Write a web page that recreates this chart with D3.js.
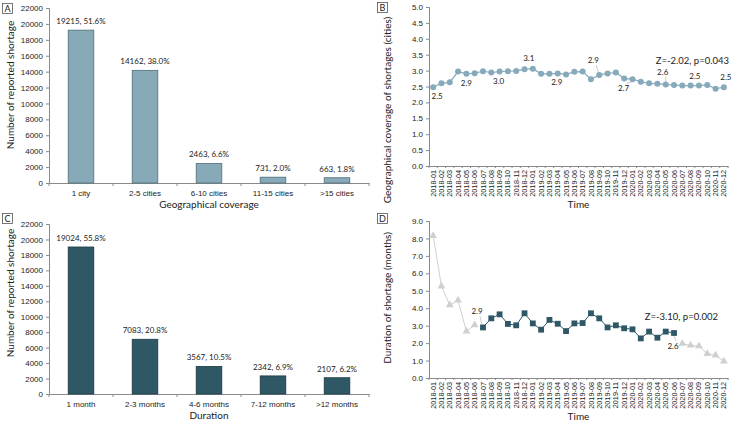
<!DOCTYPE html>
<html>
<head>
<meta charset="utf-8">
<script src="https://cdn.jsdelivr.net/npm/d3@7"></script>
<style>
  body { margin: 0; background: #fff; }
  svg { display: block; font-family: Lato, "Open Sans", sans-serif; }
</style>
</head>
<body>
<div id="chart"></div>
<script>
const coverageCats = ['1 city', '2-5 cities', '6-10 cities', '11-15 cities', '>15 cities'];
const coverageCounts = [19215, 14162, 2463, 731, 663];
const coveragePct = ['51.6%', '38.0%', '6.6%', '2.0%', '1.8%'];

const durationCats = ['1 month', '2-3 months', '4-6 months', '7-12 months', '>12 months'];
const durationCounts = [19024, 7083, 3567, 2342, 2107];
const durationPct = ['55.8%', '20.8%', '10.5%', '6.9%', '6.2%'];

const months = [
  '2018-01', '2018-02', '2018-03', '2018-04', '2018-05', '2018-06',
  '2018-07', '2018-08', '2018-09', '2018-10', '2018-11', '2018-12',
  '2019-01', '2019-02', '2019-03', '2019-04', '2019-05', '2019-06',
  '2019-07', '2019-08', '2019-09', '2019-10', '2019-11', '2019-12',
  '2020-01', '2020-02', '2020-03', '2020-04', '2020-05', '2020-06',
  '2020-07', '2020-08', '2020-09', '2020-10', '2020-11', '2020-12'
];

const coverageTrend = [
  2.48, 2.60, 2.63, 2.97, 2.90, 2.92, 2.98, 2.94, 2.97, 2.98, 2.99, 3.04,
  3.06, 2.90, 2.90, 2.91, 2.88, 2.96, 2.97, 2.73, 2.86, 2.91, 2.94, 2.75,
  2.73, 2.65, 2.60, 2.59, 2.56, 2.55, 2.53, 2.53, 2.53, 2.55, 2.43, 2.48
];
const durationTrend = [
  8.16, 5.26, 4.18, 4.45, 2.68, 3.04, 2.90, 3.42, 3.65, 3.10, 3.02, 3.71,
  3.13, 2.77, 3.33, 3.11, 2.69, 3.13, 3.15, 3.71, 3.42, 2.90, 3.02, 2.85,
  2.79, 2.27, 2.66, 2.31, 2.66, 2.58, 1.97, 1.87, 1.83, 1.39, 1.30, 0.96
];
// months 2018-07 .. 2020-06 are the highlighted stretch in panel D
const durationFocus = ['2018-07', '2020-06'];

const countTicks = [0, 2000, 4000, 6000, 8000, 10000, 12000, 14000, 16000, 18000, 20000, 22000];
const coverageTicks = [0, 0.5, 1, 1.5, 2, 2.5, 3, 3.5, 4, 4.5, 5];
const durationTicks = [0, 1, 2, 3, 4, 5, 6, 7, 8, 9];

const coverageTest = 'Z=-2.02, p=0.043';
const durationTest = 'Z=-3.10, p=0.002';

// labelled points: [month, dx, dy, leader]
const coverageLabels = [
  ['2018-01', 4, 12, false], ['2018-05', 0, 12, false], ['2018-09', -1, 12, false],
  ['2019-01', -4, -8, false], ['2019-04', -1, 12, false], ['2019-09', -6, -12, true],
  ['2020-01', -9, 12, true], ['2020-05', -3, -10, true], ['2020-09', -4, -7, false],
  ['2020-12', 2, -7, false]
];
const durationLabels = [['2018-07', -6, -13, true], ['2020-06', -1, 16, true]];

const W = 750, H = 422;
const axisColor = '#8a8a8a';
const textColor = '#222';

const svg = d3.select('#chart').append('svg')
  .attr('width', W).attr('height', H).attr('viewBox', `0 0 ${W} ${H}`);

function panelTag(x, y, letter) {
  svg.append('rect').attr('x', x + 0.5).attr('y', y + 0.5).attr('width', 10).attr('height', 10)
    .attr('fill', '#fff').attr('stroke', '#555').attr('stroke-width', 0.8);
  svg.append('text').attr('x', x + 5.5).attr('y', y + 9).attr('text-anchor', 'middle')
    .attr('font-size', 9).attr('fill', textColor).text(letter);
}

function styleAxis(g) {
  g.select('.domain').attr('stroke', axisColor);
  g.selectAll('.tick line').attr('stroke', axisColor);
  g.selectAll('.tick text').attr('fill', textColor);
}

function drawBars(opts) {
  const { cats, counts, pct, fill, stroke, left, right, top, bottom, xTitle, yTitleY } = opts;
  const x = d3.scaleBand().domain(cats).range([left, right]).paddingInner(0.6).paddingOuter(0.3);
  const y = d3.scaleLinear().domain([0, 22000]).range([bottom, top]);

  const ya = svg.append('g').attr('transform', `translate(${left},0)`)
    .call(d3.axisLeft(y).tickValues(countTicks).tickFormat(d3.format('d')).tickSize(3).tickPadding(3));
  ya.selectAll('text').attr('font-size', 8);
  styleAxis(ya);

  const xa = svg.append('g').attr('transform', `translate(0,${bottom})`)
    .call(d3.axisBottom(x).tickSize(0).tickPadding(7));
  xa.selectAll('text').attr('font-size', 8);
  styleAxis(xa);
  const edges = cats.map(d => x(d) + x.bandwidth() / 2 - x.step() / 2).concat([right]);
  xa.selectAll('.edge').data(edges).join('line').attr('class', 'edge')
    .attr('x1', d => d).attr('x2', d => d).attr('y1', 0).attr('y2', 3).attr('stroke', axisColor);

  svg.append('g').selectAll('rect').data(cats).join('rect')
    .attr('x', d => x(d)).attr('width', x.bandwidth())
    .attr('y', (d, i) => y(counts[i])).attr('height', (d, i) => bottom - y(counts[i]))
    .attr('fill', fill).attr('stroke', stroke).attr('stroke-width', 0.8);

  svg.append('g').selectAll('text').data(cats).join('text')
    .attr('x', d => x(d) + x.bandwidth() / 2).attr('y', (d, i) => y(counts[i]) - 6)
    .attr('text-anchor', 'middle').attr('font-size', 8).attr('fill', textColor)
    .text((d, i) => `${counts[i]}, ${pct[i]}`);

  svg.append('text').attr('x', (left + right) / 2).attr('y', bottom + 25)
    .attr('text-anchor', 'middle').attr('font-size', 10).attr('fill', textColor).text(xTitle);
  svg.append('text').attr('transform', `translate(${left - 35},${yTitleY}) rotate(-90)`)
    .attr('text-anchor', 'middle').attr('font-size', 10).attr('fill', textColor)
    .text('Number of reported shortage');
}

function timeFrame(opts) {
  const { left, right, top, bottom, domain, ticks, yTitle, yTitleY } = opts;
  const x = d3.scaleBand().domain(months).range([left, right]);
  const y = d3.scaleLinear().domain(domain).range([bottom, top]);

  const ya = svg.append('g').attr('transform', `translate(${left},0)`)
    .call(d3.axisLeft(y).tickValues(ticks).tickFormat(d3.format('.1f')).tickSize(3).tickPadding(3));
  ya.selectAll('text').attr('font-size', 8);
  styleAxis(ya);

  const xa = svg.append('g').attr('transform', `translate(0,${bottom})`)
    .call(d3.axisBottom(x).tickSize(0).tickPadding(4));
  xa.selectAll('text').attr('font-size', 7.3)
    .attr('text-anchor', 'end')
    .attr('x', 0).attr('y', 0).attr('dx', 0).attr('dy', '0.35em')
    .attr('transform', 'translate(0,4) rotate(-90)');
  styleAxis(xa);
  const edges = months.map(d => x(d)).concat([right]);
  xa.selectAll('.edge').data(edges).join('line').attr('class', 'edge')
    .attr('x1', d => d).attr('x2', d => d).attr('y1', 0).attr('y2', 2).attr('stroke', axisColor);

  svg.append('text').attr('x', (left + right) / 2).attr('y', bottom + 42)
    .attr('text-anchor', 'middle').attr('font-size', 10).attr('fill', textColor).text('Time');
  svg.append('text').attr('transform', `translate(${left - 38},${yTitleY}) rotate(-90)`)
    .attr('text-anchor', 'middle').attr('font-size', 10).attr('fill', textColor).text(yTitle);

  const cx = d => x(d) + x.bandwidth() / 2;
  return { x, y, cx };
}

function pointLabels(frame, values, labels) {
  const { y, cx } = frame;
  const fmt = d3.format('.1f');
  const g = svg.append('g');
  labels.forEach(([m, dx, dy, leader]) => {
    const i = months.indexOf(m);
    const px = cx(m), py = y(values[i]);
    const tx = px + dx, ty = py + dy;
    if (leader) {
      const ly = dy < 0 ? ty + 2 : ty - 8;
      g.append('line').attr('x1', tx + 3).attr('y1', ly).attr('x2', px - (dx < -4 ? 1 : 0)).attr('y2', py + (dy < 0 ? -3 : 3))
        .attr('stroke', '#aaa').attr('stroke-width', 0.6);
    }
    g.append('text').attr('x', tx).attr('y', ty).attr('text-anchor', 'middle')
      .attr('font-size', 8).attr('fill', textColor).text(fmt(values[i]));
  });
}

// Panel A
panelTag(2, 3, 'A');
drawBars({
  cats: coverageCats, counts: coverageCounts, pct: coveragePct,
  fill: '#88a9b8', stroke: '#4f6e7b',
  left: 49, right: 369, top: 8, bottom: 183,
  xTitle: 'Geographical coverage', yTitleY: 85
});

// Panel C
panelTag(2, 213, 'C');
drawBars({
  cats: durationCats, counts: durationCounts, pct: durationPct,
  fill: '#2e5866', stroke: '#1d3a44',
  left: 49, right: 369, top: 224, bottom: 394,
  xTitle: 'Duration', yTitleY: 293
});

// Panel B
panelTag(377, 2, 'B');
const fb = timeFrame({
  left: 429, right: 728, top: 7, bottom: 166, domain: [0, 5], ticks: coverageTicks,
  yTitle: 'Geographical coverage of shortages (cities)', yTitleY: 110
});
const bColor = '#86aabb';
svg.append('path').datum(months)
  .attr('d', d3.line().x(d => fb.cx(d)).y((d, i) => fb.y(coverageTrend[i])))
  .attr('fill', 'none').attr('stroke', bColor).attr('stroke-width', 1.2);
svg.append('g').selectAll('circle').data(months).join('circle')
  .attr('cx', d => fb.cx(d)).attr('cy', (d, i) => fb.y(coverageTrend[i])).attr('r', 3)
  .attr('fill', bColor);
pointLabels(fb, coverageTrend, coverageLabels);
svg.append('text').attr('x', 729).attr('y', 64).attr('text-anchor', 'end')
  .attr('font-size', 9.5).attr('fill', textColor).text(coverageTest);

// Panel D
panelTag(377, 213, 'D');
const fd = timeFrame({
  left: 429, right: 728, top: 221, bottom: 378, domain: [0, 9], ticks: durationTicks,
  yTitle: 'Duration of shortage (months)', yTitleY: 298
});
const i0 = months.indexOf(durationFocus[0]);
const i1 = months.indexOf(durationFocus[1]);
const segs = [
  { ms: months.slice(0, i0), off: 0, focus: false },
  { ms: months.slice(i0, i1 + 1), off: i0, focus: true },
  { ms: months.slice(i1 + 1), off: i1 + 1, focus: false }
];
const greyC = '#cfcfcf', darkC = '#2e5866';
segs.forEach(s => {
  svg.append('path').datum(s.ms)
    .attr('d', d3.line().x(d => fd.cx(d)).y((d, i) => fd.y(durationTrend[s.off + i])))
    .attr('fill', 'none').attr('stroke', s.focus ? darkC : greyC).attr('stroke-width', 1);
  svg.append('g').selectAll('path').data(s.ms).join('path')
    .attr('transform', (d, i) => `translate(${fd.cx(d)},${fd.y(durationTrend[s.off + i])})`)
    .attr('d', d3.symbol().type(s.focus ? d3.symbolSquare : d3.symbolTriangle).size(s.focus ? 34 : 26))
    .attr('fill', s.focus ? darkC : greyC);
});
pointLabels(fd, durationTrend, durationLabels);
svg.append('text').attr('x', 718).attr('y', 320).attr('text-anchor', 'end')
  .attr('font-size', 9.5).attr('fill', textColor).text(durationTest);
</script>
</body>
</html>
